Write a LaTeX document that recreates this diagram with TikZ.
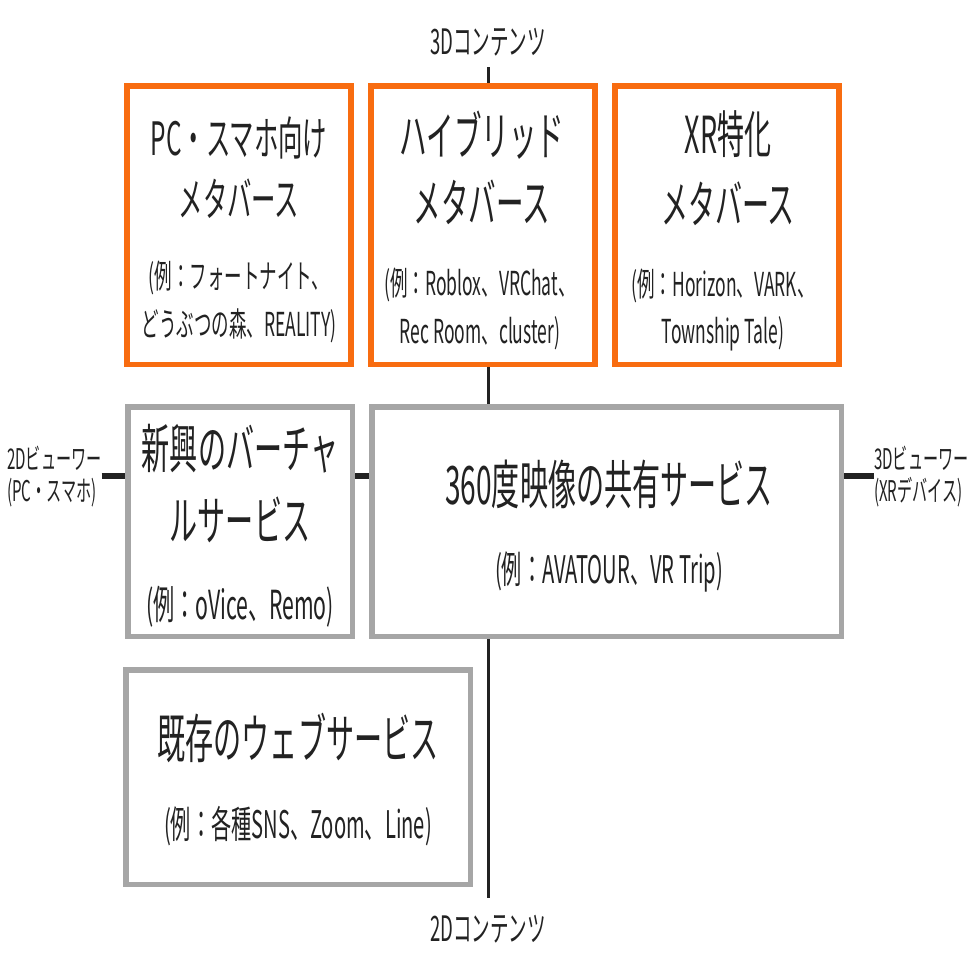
\documentclass[tikz,border=0pt]{standalone}
\usepackage{fontspec}
\setmainfont[FakeStretch=0.53]{Noto Sans CJK JP}
\definecolor{boxorange}{RGB}{248,108,16}
\definecolor{boxgray}{RGB}{166,166,166}
\definecolor{inkgray}{RGB}{34,34,34}
\tikzset{
	orangebox/.style={draw=boxorange, line width=5.5pt, fill=white, inner sep=0pt, minimum width=224pt, minimum height=278.5pt},
	graybox/.style={draw=boxgray, line width=5.5pt, fill=white, inner sep=0pt},
	boxtitle/.style={align=center, text=inkgray, inner sep=0pt},
	axislabel/.style={text=inkgray, inner sep=0pt, font=\fontsize{35}{40}\selectfont},
	sidelabel/.style={text=inkgray, inner sep=0pt, anchor=west, align=left, font=\fontsize{28.5}{32}\selectfont}
}
\begin{document}
\begin{tikzpicture}[x=1pt, y=-1pt]
		\useasboundingbox (0,0) rectangle (975,975);
		%Axis
		\node[axislabel] (top) at (488,42) {3Dコンテンツ};
		\node[axislabel] (bottom) at (488,929) {2Dコンテンツ};
		\node[sidelabel] (left) at (7,477) {2Dビューワー\\(PC・スマホ)};
		\node[sidelabel] (right) at (874,477) {3Dビューワー\\(XRデバイス)};
		\coordinate (axtop) at (488,67);
		\coordinate (axbottom) at (488,898);
		\draw[line width=3pt, inkgray] (axtop) -- (axbottom);
		\draw[line width=6.5pt, inkgray] (left.east |- 0,476) -- (right.west |- 0,476);
		%Boxes
		\node[orangebox] (pc) at (239,225) {};
		\node[orangebox] (hybrid) at (483,225) {};
		\node[orangebox] (xr) at (727,225) {};
		\node[graybox, minimum width=224.5pt, minimum height=229.5pt] (virtual) at (240,521.5) {};
		\node[graybox, minimum width=469.5pt, minimum height=229.5pt] (share) at (606.5,521.5) {};
		\node[graybox, minimum width=344.5pt, minimum height=214.5pt] (web) at (298,777) {};
		%Texts
		\node[boxtitle, font=\fontsize{46}{61}\selectfont] (pct) at (239,167.5) {PC・スマホ向け\\メタバース};
		\node[boxtitle, font=\fontsize{33}{48}\selectfont] (pce) at (239,302) {(例：フォートナイト、\\どうぶつの森、REALITY)};
		\node[boxtitle, font=\fontsize{52}{67}\selectfont] (hybridt) at (482,167.5) {ハイブリッド\\メタバース};
		\node[boxtitle, font=\fontsize{33}{48}\selectfont] (hybride) at (480,309) {(例：Roblox、VRChat、\\Rec Room、cluster)};
		\node[boxtitle, font=\fontsize{51}{70}\selectfont] (xrt) at (728,168) {XR特化\\メタバース};
		\node[boxtitle, font=\fontsize{33}{47}\selectfont] (xre) at (723,310) {(例：Horizon、VARK、\\Township Tale)};
		\node[boxtitle, font=\fontsize{53}{72}\selectfont] (virtualt) at (240,483.5) {新興のバーチャ\\ルサービス};
		\node[boxtitle, font=\fontsize{40}{48}\selectfont] (virtuale) at (240,607) {(例：oVice、Remo)};
		\node[boxtitle, font=\fontsize{53}{62}\selectfont] (sharet) at (609,484) {360度映像の共有サービス};
		\node[boxtitle, font=\fontsize{38}{46}\selectfont] (sharee) at (609,572) {(例：AVATOUR、VR Trip)};
		\node[boxtitle, font=\fontsize{53}{62}\selectfont] (webt) at (298,738) {既存のウェブサービス};
		\node[boxtitle, font=\fontsize{38}{46}\selectfont] (webe) at (298,826.5) {(例：各種SNS、Zoom、Line)};
\end{tikzpicture}
\end{document}
